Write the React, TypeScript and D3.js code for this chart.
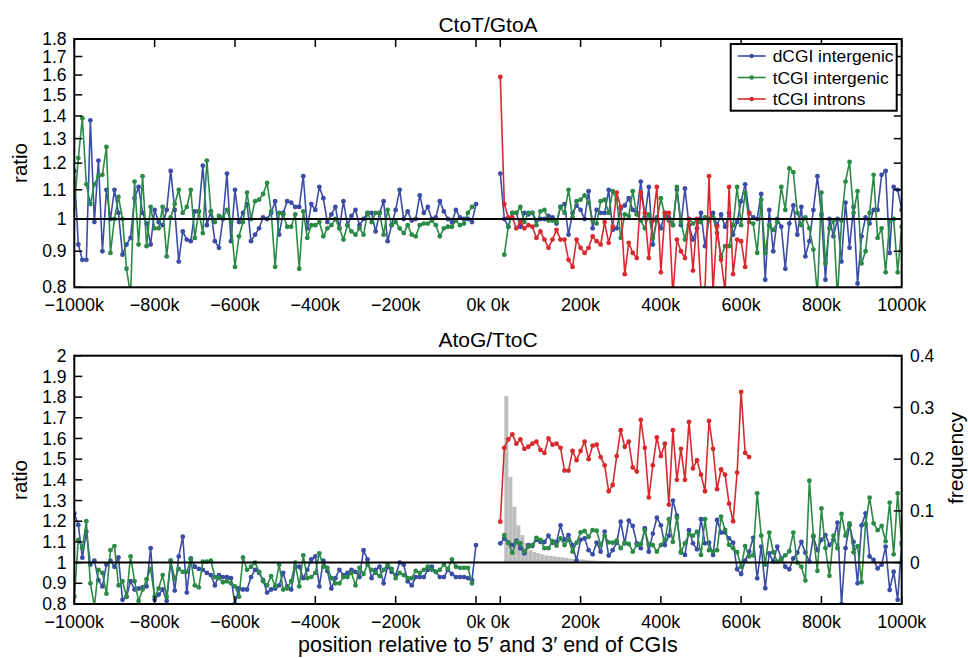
import React from "react";
import * as d3 from "d3";

const BLUE = "#3a4ca6";
const GREEN = "#2a8a46";
const RED = "#d62a2e";
const GRAY = "#bdbdbd";

// ---------- DATA ----------
const leftPos = d3.range(-1000, 1, 10); // -1000k .. 0k, 10k bins
const rightPos = d3.range(0, 1001, 10); // 0k .. 1000k, 10k bins

// CtoT/GtoA (top panel)
const ctDcgiLeft = [
  1.17, 0.92, 0.875, 0.875, 1.38, 0.99, 1.21, 0.9, 1.1, 1.0,
  1.1, 1.02, 0.89, 0.92, 0.94, 1.07, 1.11, 1.02, 0.985, 0.92,
  1.03, 0.99, 0.98, 1.03, 1.17, 1.03, 0.87, 0.96, 0.935, 0.93,
  1.025, 1.025, 1.19, 0.98, 1.025, 0.93, 0.91, 1.0, 1.16, 0.93,
  1.1, 0.99, 1.02, 1.05, 0.93, 0.95, 0.97, 1.005, 1.0, 1.02,
  1.06, 0.95, 1.02, 1.06, 1.055, 1.04, 1.04, 1.15, 0.97, 1.05,
  1.03, 1.11, 1.07, 0.99, 1.015, 1.04, 0.97, 1.06, 0.98, 1.01,
  1.03, 0.98, 1.0, 1.02, 1.02, 0.96, 1.02, 1.06, 0.93, 0.98,
  1.03, 1.1, 1.0, 1.025, 0.995, 1.0, 1.08, 1.02, 1.04, 1.0,
  1.005, 1.06, 1.025, 1.0, 0.99, 1.03, 1.005, 1.0, 1.0, 0.99,
  1.05,
];
const ctTcgiLeft = [
  1.04, 1.22, 1.39, 1.12, 1.05, 1.12, 1.15, 1.155, 1.265, 0.895,
  1.0, 1.075, 1.0, 0.85, 0.78, 1.13, 0.92, 1.15, 0.915, 1.04,
  0.97, 0.97, 1.04, 0.885, 1.005, 1.05, 1.1, 1.02, 1.04, 1.1,
  0.94, 1.025, 0.955, 1.21, 1.025, 0.99, 1.01, 1.005, 1.03, 0.99,
  0.855, 0.945, 0.99, 1.09, 1.0, 1.06, 1.065, 1.085, 1.125, 1.025,
  0.855, 1.02, 1.015, 0.975, 0.975, 1.015, 0.85, 1.025, 0.94, 0.98,
  0.98, 0.99, 0.945, 0.97, 0.98, 1.0, 0.97, 0.935, 0.98, 0.96,
  0.95, 0.97, 0.95, 1.02, 0.99, 1.02, 1.02, 0.95, 1.03, 0.98,
  0.99, 0.97, 0.955, 0.98, 0.95, 0.945, 0.98, 0.985, 0.985, 0.995,
  0.98, 0.945, 0.97, 0.975, 0.975, 0.995, 0.98, 0.985, 1.02, 1.04,
];
const ctDcgiRight = [
  1.16, 1.0, 0.975, 1.02, 1.02, 0.975, 1.02, 1.015, 1.02, 0.995,
  1.0, 1.0, 1.01, 1.005, 0.985, 1.04, 1.05, 0.95, 1.02, 1.045,
  1.03, 1.0, 1.095, 0.97, 1.03, 1.02, 1.02, 1.1, 0.965, 0.97,
  1.035, 1.045, 1.07, 1.03, 1.02, 1.13, 1.005, 1.11, 0.92, 1.005,
  0.97, 1.02, 1.005, 0.98, 1.1, 0.98, 1.105, 0.98, 0.935, 0.97,
  1.02, 0.915, 1.0, 1.02, 0.98, 1.015, 0.975, 1.02, 0.95, 0.99,
  1.06, 1.12, 1.02, 1.005, 1.0, 1.085, 0.82, 1.03, 0.9, 1.0,
  0.975, 0.85, 0.985, 1.045, 0.95, 1.04, 0.885, 0.93, 1.03, 1.15,
  1.015, 0.82, 1.0, 0.945, 1.0, 0.87, 1.055, 0.91, 1.04, 0.81,
  0.945, 1.005, 0.985, 1.03, 1.03, 1.155, 1.17, 0.895, 1.11, 1.1,
  1.03,
];
const ctTcgiRight = [
  0.89, 0.975, 1.02, 1.02, 1.04, 0.99, 1.02, 1.02, 0.98, 1.025,
  1.03, 0.995, 0.995, 0.99, 1.04, 1.02, 1.1, 1.005, 1.06, 1.065,
  1.08, 1.055, 0.995, 0.985, 1.06, 1.065, 1.02, 1.095, 1.065, 0.94,
  1.015, 1.01, 1.095, 1.015, 0.995, 0.97, 1.015, 0.94, 0.995, 1.07,
  1.01, 0.995, 0.98, 1.11, 0.99, 0.935, 1.0, 0.985, 0.995, 0.99,
  1.005, 0.995, 1.005, 0.955, 0.885, 0.915, 0.915, 0.98, 1.11, 0.98,
  1.09, 0.99, 0.985, 0.895, 1.065, 0.895, 0.98, 0.965, 0.99, 1.11,
  1.03, 1.18, 1.165, 1.02, 0.98, 1.005, 0.97, 0.905, 0.78, 1.09,
  0.865, 0.97, 0.995, 0.77, 0.995, 1.13, 1.205, 1.02, 1.095, 0.865,
  0.9, 1.02, 1.155, 0.94, 0.97, 0.84, 0.995, 1.0, 0.84, 0.975,
];
const ctIntronRight = [
  1.59, 1.05, 1.005, 1.005, 0.97, 0.99, 0.97, 0.98, 0.975, 0.94,
  0.96, 0.935, 0.91, 0.935, 0.965, 0.935, 0.935, 0.875, 0.855, 0.935,
  0.91, 0.895, 0.91, 0.945, 0.93, 0.92, 0.99, 0.925, 0.975, 1.09,
  1.04, 0.835, 0.925, 0.895, 0.88, 1.09, 1.02, 0.88, 0.995, 1.11,
  0.84, 1.02, 1.02, 0.78, 0.935, 0.9, 0.88, 1.0, 0.845, 1.0,
  0.79, 0.795, 1.15, 0.79, 0.975, 0.875, 0.79, 1.11, 0.835, 0.935,
  0.93, 0.855, 1.02,
];

// AtoG/TtoC (bottom panel)
const agDcgiLeft = [
  1.238, 1.182, 1.024, 1.15, 0.99, 1.01, 0.915, 0.885, 0.99, 1.01,
  0.98, 1.025, 0.82, 0.835, 0.91, 0.87, 0.875, 0.88, 0.885, 1.07,
  0.82, 0.845, 0.87, 0.815, 1.01, 0.865, 1.03, 1.125, 0.855, 1.02,
  0.98, 0.97, 0.965, 0.95, 0.94, 0.89, 0.94, 0.93, 0.93, 0.925,
  0.8, 0.875, 0.87, 0.87, 0.93, 0.965, 0.95, 0.915, 0.855, 0.87,
  0.875, 0.89, 0.95, 0.885, 0.87, 0.98, 0.98, 0.925, 0.965, 1.015,
  1.03, 0.885, 1.01, 0.96, 0.875, 0.925, 0.965, 0.94, 0.95, 0.965,
  0.955, 0.93, 1.06, 1.015, 0.925, 0.965, 0.98, 0.9, 0.98, 0.955,
  0.94, 1.0, 0.99, 0.91, 0.89, 0.93, 0.93, 0.93, 0.965, 0.98,
  0.955, 0.93, 0.93, 0.965, 0.945, 0.93, 0.93, 0.93, 0.925, 0.915,
  1.085,
];
const agTcgiLeft = [
  0.835, 1.11, 1.07, 1.2, 0.9, 0.79, 0.965, 0.95, 0.85, 1.06,
  1.08, 0.89, 0.91, 0.835, 1.03, 0.91, 0.815, 0.87, 0.92, 0.97,
  0.835, 0.875, 0.94, 0.835, 1.01, 0.92, 0.97, 0.955, 0.955, 1.015,
  0.89, 0.88, 1.005, 1.005, 1.01, 0.93, 0.925, 0.905, 0.91, 0.9,
  0.885, 0.835, 1.025, 0.965, 0.98, 1.0, 0.955, 0.91, 0.89, 0.935,
  0.885, 0.99, 0.87, 0.875, 0.91, 1.0, 0.885, 1.035, 0.925, 0.93,
  0.95, 1.045, 0.98, 0.975, 0.925, 0.9, 0.9, 0.93, 0.93, 0.95,
  0.89, 0.975, 0.945, 0.99, 0.965, 0.95, 0.935, 0.965, 0.99, 0.97,
  0.925, 0.95, 0.94, 0.925, 0.925, 0.96, 0.95, 0.965, 0.98, 0.965,
  0.955, 0.965, 0.99, 0.97, 1.015, 0.98, 0.975, 0.975, 0.975, 0.9,
];
const agDcgiRight = [
  1.093, 1.117, 1.096, 1.085, 1.106, 1.07, 1.045, 1.085, 1.08, 1.11,
  1.1, 1.1, 1.13, 1.096, 1.1, 1.18, 1.11, 1.133, 1.085, 1.01,
  1.11, 1.117, 1.06, 1.04, 1.096, 1.053, 1.15, 1.034, 1.06, 1.096,
  1.198, 1.093, 1.203, 1.177, 1.093, 1.07, 1.166, 1.053, 1.14, 1.217,
  1.18, 1.085, 1.13, 1.3, 1.227, 1.053, 1.037, 1.157, 1.093, 1.064,
  1.21, 1.093, 1.096, 1.037, 1.206, 1.145, 1.145, 1.117, 1.096, 0.968,
  0.945, 1.01, 1.053, 1.12, 0.924, 1.077, 0.876, 1.045, 1.005, 1.077,
  1.02, 0.98, 0.968, 1.02, 1.048, 1.1, 1.048, 1.005, 1.125, 1.06,
  1.11, 1.133, 1.085, 1.11, 1.193, 0.8, 1.07, 1.18, 1.1, 0.9,
  1.18, 1.238, 1.03, 1.013, 0.972, 0.99, 1.077, 0.868, 0.956, 0.82,
  1.096,
];
const agTcgiRight = [
  1.133, 1.096, 1.048, 1.1, 1.093, 1.053, 1.077, 1.085, 1.12, 1.11,
  1.07, 1.07, 1.104, 1.082, 1.117, 1.085, 1.11, 1.053, 1.096, 1.146,
  1.153, 1.125, 1.157, 1.154, 1.085, 1.13, 1.098, 1.096, 1.106, 1.07,
  1.096, 1.09, 1.053, 1.085, 1.09, 1.157, 1.088, 1.085, 1.053, 1.085,
  1.11, 1.21, 1.1, 1.217, 1.048, 1.093, 1.138, 1.13, 1.15, 1.037,
  1.21, 1.06, 1.053, 1.06, 1.222, 1.158, 1.086, 1.07, 1.05, 0.98,
  1.08, 1.03, 1.035, 1.335, 1.13, 0.99, 1.145, 1.05, 1.005, 1.015,
  1.035, 1.055, 1.145, 1.0, 0.98, 0.913, 1.396, 1.13, 0.96, 1.262,
  1.07, 0.936, 1.13, 1.07, 1.235, 1.13, 1.19, 1.05, 1.08, 0.905,
  1.187, 1.314, 1.19, 1.157, 1.177, 1.103, 1.29, 1.04, 1.335, 1.085,
];
const agIntronRight = [
  1.198, 1.555, 1.595, 1.62, 1.575, 1.595, 1.55, 1.56, 1.575, 1.585,
  1.545, 1.53, 1.6, 1.57, 1.575, 1.555, 1.445, 1.445, 1.54, 1.495,
  1.54, 1.585, 1.5, 1.565, 1.57, 1.51, 1.47, 1.345, 1.375, 1.515,
  1.64, 1.56, 1.585, 1.46, 1.44, 1.69, 1.555, 1.315, 1.47, 1.605,
  1.515, 1.575, 1.28, 1.64, 1.4, 1.55, 1.4, 1.68, 1.455, 1.495,
  1.425, 1.345, 1.685, 1.55, 1.355, 1.45, 1.425, 1.285, 1.2, 1.435,
  1.825, 1.53, 1.51,
];
// CGI length frequency histogram (bins of 10k starting at 10k)
const histStart = d3.range(10, 300, 10);
const histFreq = [
  0.322, 0.166, 0.108, 0.072, 0.053, 0.038, 0.024, 0.021, 0.018, 0.016,
  0.014, 0.013, 0.012, 0.011, 0.01, 0.009, 0.008, 0.007, 0.006, 0.006,
  0.005, 0.004, 0.004, 0.003, 0.003, 0.002, 0.002, 0.002, 0.001,
];

const xTicksLeft = [-1000, -800, -600, -400, -200, 0];
const xTicksRight = [0, 200, 400, 600, 800, 1000];
const topYTicks = [0.8, 0.9, 1, 1.1, 1.2, 1.3, 1.4, 1.5, 1.6, 1.7, 1.8];
const botYTicks = [0.8, 0.9, 1, 1.1, 1.2, 1.3, 1.4, 1.5, 1.6, 1.7, 1.8, 1.9, 2];
const freqTicks = [0, 0.1, 0.2, 0.3, 0.4];
const legendItems = [
  { label: "dCGI intergenic", color: BLUE },
  { label: "tCGI intergenic", color: GREEN },
  { label: "tCGI introns", color: RED },
];

// ---------- LAYOUT ----------
const W = 968;
const H = 658;
const XL0 = 74.3;
const XL1 = 476;
const XR0 = 500.3;
const XR1 = 901.7;
const TOP = { y0: 39, y1: 287.3 };
const BOT = { y0: 355.7, y1: 604 };
const FONT = "'Liberation Sans', Arial, Helvetica, sans-serif";

const xLeft = d3.scaleLinear().domain([-1000, 0]).range([XL0, XL1]);
const xRight = d3.scaleLinear().domain([0, 1000]).range([XR0, XR1]);
const yTop = d3.scaleLog().domain([0.8, 1.8]).range([TOP.y1, TOP.y0]);
const yBot = d3.scaleLinear().domain([0.8, 2]).range([BOT.y1, BOT.y0]);
const yFreq = d3.scaleLinear().domain([0, 0.4]).range([yBot(1), BOT.y0]);

const kLabel = (v: number) => (v < 0 ? "\u2212" : "") + Math.abs(v) + "k";

function Series({ xs, ys, x, y, color }: any) {
  const pts: [number, number][] = ys.map((v: number, i: number) => [x(xs[i]), y(v)]);
  const d = d3.line()(pts) || "";
  return (
    <g>
      <path d={d} fill="none" stroke={color} strokeWidth={1.6} strokeLinejoin="round" />
      {pts.map(([cx, cy], i) => (
        <circle key={i} cx={cx} cy={cy} r={2.4} fill={color} />
      ))}
    </g>
  );
}

function Panel({ p, y, clipId, children, ticksOnTop }: any) {
  return (
    <g>
      <defs>
        <clipPath id={clipId}>
          <rect x={XL0} y={p.y0} width={XR1 - XL0} height={p.y1 - p.y0} />
        </clipPath>
      </defs>
      <g clipPath={`url(#${clipId})`}>
        {children}
        <line x1={XL0} x2={XR1} y1={y(1)} y2={y(1)} stroke="#000" strokeWidth={2} />
      </g>
      {xTicksLeft.map((t) => (
        <line
          key={"l" + t}
          x1={xLeft(t)}
          x2={xLeft(t)}
          y1={ticksOnTop ? p.y0 : p.y1}
          y2={ticksOnTop ? p.y0 + 8 : p.y1 - 8}
          stroke="#000"
          strokeWidth={1.5}
        />
      ))}
      {xTicksRight.map((t) => (
        <line
          key={"r" + t}
          x1={xRight(t)}
          x2={xRight(t)}
          y1={ticksOnTop ? p.y0 : p.y1}
          y2={ticksOnTop ? p.y0 + 8 : p.y1 - 8}
          stroke="#000"
          strokeWidth={1.5}
        />
      ))}
      {xTicksLeft.map((t) => (
        <text key={"tl" + t} x={xLeft(t)} y={p.y1 + 23.5} textAnchor="middle" fontSize={18}>
          {kLabel(t)}
        </text>
      ))}
      {xTicksRight.map((t) => (
        <text key={"tr" + t} x={xRight(t)} y={p.y1 + 23.5} textAnchor="middle" fontSize={18}>
          {kLabel(t)}
        </text>
      ))}
      <rect
        x={XL0}
        y={p.y0}
        width={XR1 - XL0}
        height={p.y1 - p.y0}
        fill="none"
        stroke="#000"
        strokeWidth={2}
      />
    </g>
  );
}

export default function App() {
  return (
    <svg
      width={W}
      height={H}
      style={{ display: "block", position: "absolute", left: 0, top: 0, fontFamily: FONT }}
      fontFamily={FONT}
    >
      <rect width={W} height={H} fill="#fff" />

      {/* ---------- TOP PANEL ---------- */}
      <text x={488} y={32} textAnchor="middle" fontSize={21}>
        CtoT/GtoA
      </text>
      <Panel p={TOP} y={yTop} clipId="clipTop" ticksOnTop={true}>
        <Series xs={leftPos} ys={ctDcgiLeft} x={xLeft} y={yTop} color={BLUE} />
        <Series xs={leftPos} ys={ctTcgiLeft} x={xLeft} y={yTop} color={GREEN} />
        <Series xs={rightPos} ys={ctDcgiRight} x={xRight} y={yTop} color={BLUE} />
        <Series xs={rightPos.slice(1)} ys={ctTcgiRight} x={xRight} y={yTop} color={GREEN} />
        <Series xs={rightPos} ys={ctIntronRight} x={xRight} y={yTop} color={RED} />
      </Panel>
      {topYTicks.map((t) => (
        <g key={"ty" + t}>
          <line x1={XL0} x2={XL0 + 8} y1={yTop(t)} y2={yTop(t)} stroke="#000" strokeWidth={1.5} />
          <line x1={XR1} x2={XR1 - 8} y1={yTop(t)} y2={yTop(t)} stroke="#000" strokeWidth={1.5} />
          <text x={66.5} y={yTop(t)} dy="0.35em" textAnchor="end" fontSize={17.5}>
            {String(t)}
          </text>
        </g>
      ))}
      <text transform={`translate(26.7,163) rotate(-90)`} textAnchor="middle" fontSize={20.5}>
        ratio
      </text>
      {/* legend */}
      <g>
        <rect x={730.7} y={44} width={166} height={66.7} fill="#fff" stroke="#000" strokeWidth={2} />
        {legendItems.map((it, i) => {
          const cy = 56 + i * 21.5;
          return (
            <g key={it.label}>
              <line x1={737.7} x2={765.7} y1={cy} y2={cy} stroke={it.color} strokeWidth={1.6} />
              <circle cx={751.7} cy={cy} r={2.2} fill={it.color} />
              <text x={772.7} y={cy} dy="0.36em" fontSize={17.4}>
                {it.label}
              </text>
            </g>
          );
        })}
      </g>

      {/* ---------- BOTTOM PANEL ---------- */}
      <text x={488} y={347} textAnchor="middle" fontSize={21}>
        AtoG/TtoC
      </text>
      <Panel p={BOT} y={yBot} clipId="clipBot" ticksOnTop={false}>
        {histStart.map((s, i) => (
          <rect
            key={"h" + s}
            x={xRight(s)}
            y={yFreq(histFreq[i])}
            width={xRight(s + 10) - xRight(s)}
            height={yFreq(0) - yFreq(histFreq[i])}
            fill={GRAY}
          />
        ))}
        <Series xs={leftPos} ys={agDcgiLeft} x={xLeft} y={yBot} color={BLUE} />
        <Series xs={leftPos} ys={agTcgiLeft} x={xLeft} y={yBot} color={GREEN} />
        <Series xs={rightPos} ys={agDcgiRight} x={xRight} y={yBot} color={BLUE} />
        <Series xs={rightPos.slice(1)} ys={agTcgiRight} x={xRight} y={yBot} color={GREEN} />
        <Series xs={rightPos} ys={agIntronRight} x={xRight} y={yBot} color={RED} />
      </Panel>
      {botYTicks.map((t) => (
        <g key={"by" + t}>
          <line x1={XL0} x2={XL0 + 8} y1={yBot(t)} y2={yBot(t)} stroke="#000" strokeWidth={1.5} />
          <text x={66.5} y={yBot(t)} dy="0.35em" textAnchor="end" fontSize={17.5}>
            {String(t)}
          </text>
        </g>
      ))}
      {freqTicks.map((t) => (
        <g key={"fy" + t}>
          <line x1={XR1} x2={XR1 - 8} y1={yFreq(t)} y2={yFreq(t)} stroke="#000" strokeWidth={1.5} />
          <text x={910} y={yFreq(t)} dy="0.35em" textAnchor="start" fontSize={17.5}>
            {String(t)}
          </text>
        </g>
      ))}
      <text transform={`translate(26.7,480) rotate(-90)`} textAnchor="middle" fontSize={20.5}>
        ratio
      </text>
      <text transform={`translate(963,458) rotate(-90)`} textAnchor="middle" fontSize={21}>
        frequency
      </text>
      <text x={488} y={652} textAnchor="middle" fontSize={21.5}>
        position relative to 5′ and 3′ end of CGIs
      </text>
    </svg>
  );
}
